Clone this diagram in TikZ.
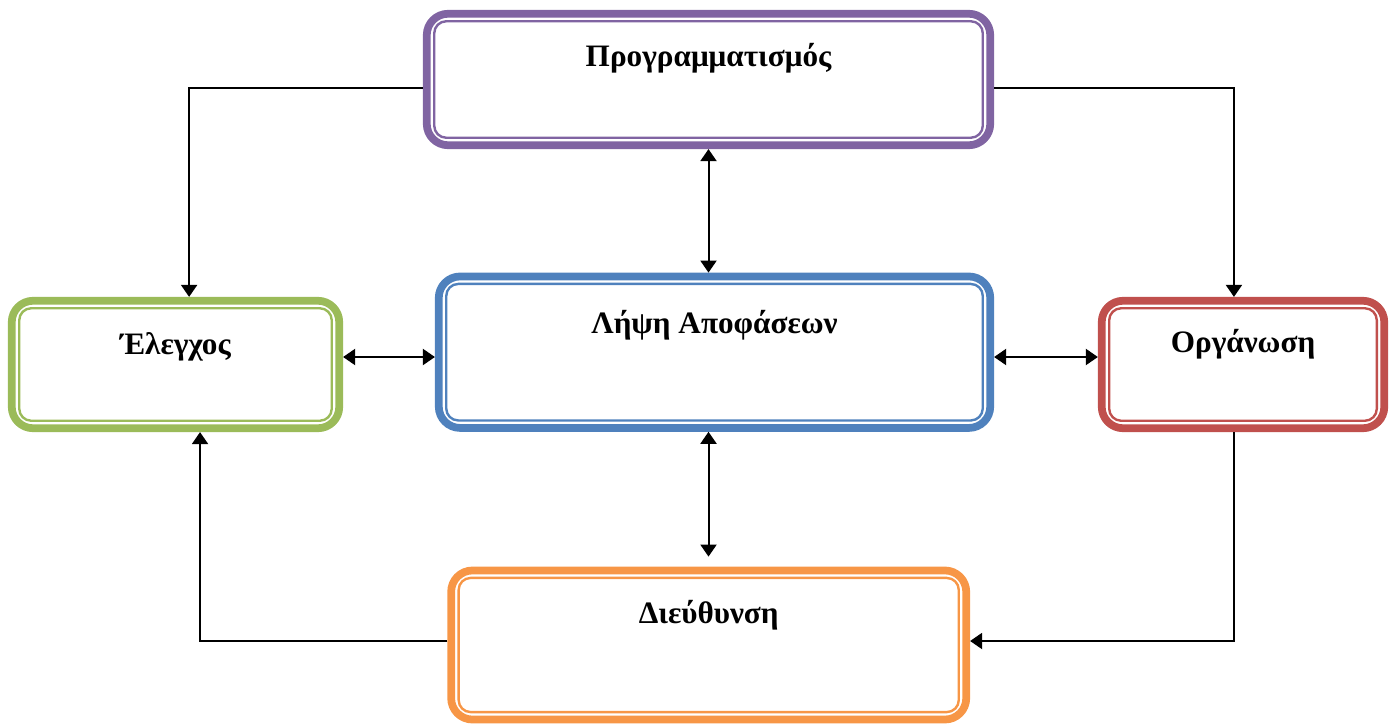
\documentclass[tikz,border=0pt]{standalone}
\usepackage{fontspec}
\setmainfont{Liberation Serif}
\usepackage{tikz}
\usetikzlibrary{arrows.meta}
\usetikzlibrary{calc}
\usetikzlibrary{positioning}
\definecolor{progcol}{HTML}{8064A2}
\definecolor{elegcol}{HTML}{9BBB59}
\definecolor{lipscol}{HTML}{4F81BD}
\definecolor{orgacol}{HTML}{C0504D}
\definecolor{dieucol}{HTML}{F79646}
\tikzset{
    phase box/.style={
        draw,
        rectangle,
        rounded corners=16pt,
        line width=5.8pt,
        outer sep=2.9pt,
        inner sep=0pt
    },
    inner frame/.style={
        line width=1.8pt,
        rounded corners=9pt
    },
    phase title/.style={
        anchor=base,
        font=\bfseries\fontsize{23.4}{28}\selectfont
    },
    link/.style={
        line width=1.5pt,
        -{Triangle[width=12pt,length=9pt]}
    },
    both link/.style={
        line width=1.5pt,
        {Triangle[width=12pt,length=9pt]}-{Triangle[width=12pt,length=9pt]}
    }
}
\begin{document}
\begin{tikzpicture}[x=0.75pt,y=-0.75pt]
          \useasboundingbox (0,0) rectangle (1394,724);
          \node[phase box,draw=progcol,minimum width=422.6pt,minimum height=98.6pt] (prog) at (708.5,79.5) {};
          \node[phase box,draw=elegcol,minimum width=245.6pt,minimum height=95.6pt] (eleg) at (175.5,364.5) {};
          \node[phase box,draw=lipscol,minimum width=413.6pt,minimum height=113.6pt] (lips) at (714.5,352.2) {};
          \node[phase box,draw=orgacol,minimum width=211.9pt,minimum height=95.6pt] (orga) at (1243,364.5) {};
          \node[phase box,draw=dieucol,minimum width=386.3pt,minimum height=111.8pt] (dieu) at (708.7,645) {};
          \foreach \n/\c in {prog/progcol,eleg/elegcol,lips/lipscol,orga/orgacol,dieu/dieucol}
            \draw[inner frame,\c] ([shift={(8.5pt,-8.5pt)}]\n.north west) rectangle ([shift={(-8.5pt,8.5pt)}]\n.south east);

          \node[phase title] (prog-t) at ([yshift=-42.5pt]prog.north) {Προγραμματισμός};
          \node[phase title] (eleg-t) at ([yshift=-43pt]eleg.north) {Έλεγχος};
          \node[phase title] (lips-t) at ([yshift=-45.5pt]lips.north) {Λήψη Αποφάσεων};
          \node[phase title] (orga-t) at ([yshift=-42pt]orga.north) {Οργάνωση};
          \node[phase title] (dieu-t) at ([yshift=-43pt]dieu.north) {Διεύθυνση};

          % cycle round the outside
          \draw[link] ([yshift=-6.4pt]prog.west) -| ([xshift=10.2pt]eleg.north);
          \draw[link] ([yshift=-6.4pt]prog.east) -| ([xshift=-6.8pt]orga.north);
          \draw[link] ([xshift=-6.8pt]orga.south) |- ([yshift=3pt]dieu.east);
          \draw[link] ([yshift=3pt]dieu.west) -| ([xshift=18.4pt]eleg.south);

          % to and from the centre
          \draw[both link] (prog.south) -- (prog.south |- lips.north);
          \draw[both link,shorten >=7.5pt] (lips.south -| prog.south) -- (prog.south |- dieu.north);
          \draw[both link] (eleg.east |- 0,357) -- (lips.west |- 0,357);
          \draw[both link] (lips.east |- 0,357) -- (orga.west |- 0,357);
\end{tikzpicture}
\end{document}
